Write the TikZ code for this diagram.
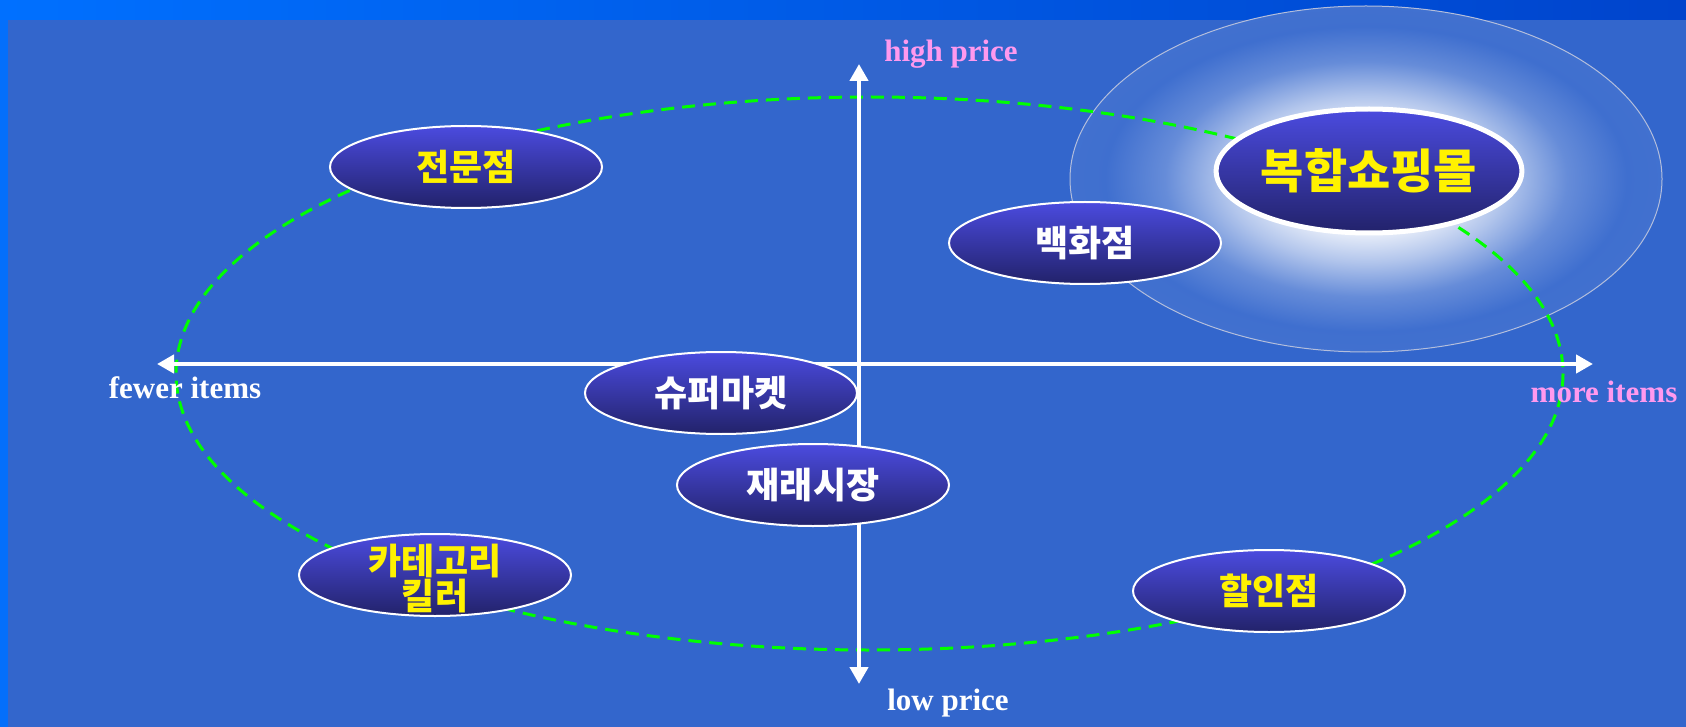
\documentclass[tikz,border=0pt]{standalone}
\usepackage{fontspec}
\setmainfont{Liberation Serif}
\newfontfamily\kor{Noto Sans CJK KR}
\usetikzlibrary{shapes.geometric,arrows.meta}
\definecolor{bgblue}{HTML}{3366CC}
\definecolor{barleft}{HTML}{0070FF}
\definecolor{barright}{HTML}{0044CC}
\definecolor{celltop}{HTML}{4B4BDF}
\definecolor{cellbottom}{HTML}{22226A}
\definecolor{labelpink}{HTML}{FF99EE}
\definecolor{ringgreen}{HTML}{00FF00}
\definecolor{glowrim}{HTML}{B4BEDC}
\pgfdeclareradialshading{glow}{\pgfpoint{0bp}{0bp}}{%
  color(0bp)=(white); color(7bp)=(white!94!bgblue);
  color(12bp)=(white!62!bgblue); color(17bp)=(white!25!bgblue);
  color(22bp)=(bgblue!94!white); color(25bp)=(bgblue!93!white);
  color(50bp)=(bgblue)}
\begin{document}
\begin{tikzpicture}[x=0.5pt,y=-0.5pt,
    store/.style={ellipse,draw=white,line width=1pt,inner sep=0pt,
      minimum width=136pt,minimum height=41pt,
      top color=celltop,bottom color=cellbottom,
      font=\kor\bfseries\fontsize{18}{17.5}\selectfont,align=center},
    axis/.style={white,line width=2.4pt,{Triangle[width=9pt,length=8.5pt]}-{Triangle[width=9pt,length=8.5pt]}},
    axislabel/.style={font=\bfseries\fontsize{15.5}{18}\selectfont,anchor=base,inner sep=0pt}]
  \useasboundingbox (0,0) rectangle (1686,727);
  % Background and title bar
  \fill[bgblue] (0,0) rectangle (1686,727);
  \shade[left color=barleft,right color=barright] (0,0) rectangle (1686,20);
  \fill[barleft!92!bgblue] (0,20) rectangle (8,727);

  % Glow behind the big node
  \path[shading=glow,draw=glowrim,line width=0.5pt] (1366,179) ellipse (296 and 173);

  % The dashed ring
  \draw[ringgreen,line width=1.5pt,dash pattern=on 6.5pt off 4pt] (869.5,373.5) ellipse (693.5 and 276.5);

  % The axes
  \coordinate (lowend) at (859,684);
  \coordinate (highend) at (859,64);
  \coordinate (fewend) at (157,364);
  \coordinate (moreend) at (1593,364);
  \draw[axis] (lowend) -- (highend);
  \draw[axis] (fewend) -- (moreend);
  \node[axislabel,labelpink] (high) at (951,62) {high price};
  \node[axislabel,white] (low) at (948,710) {low price};
  \node[axislabel,white] (few) at (185,398) {fewer items};
  \node[axislabel,labelpink] (more) at (1604,402) {more items};

  % Place the stores
  \node[store,text=yellow] (special) at (466,167) {전문점};
  \node[store,text=white] (dept) at (1085,243) {백화점};
  \node[store,text=yellow,line width=2.5pt,minimum width=147pt,minimum height=62pt,
        font=\kor\bfseries\fontsize{23.5}{26}\selectfont] (mall) at (1369,171) {복합쇼핑몰};
  \node[store,text=white] (super) at (721,393) {슈퍼마켓};
  \node[store,text=white] (market) at (813,485) {재래시장};
  \node[store,text=yellow] (killer) at (435,575)
    {\smash{\raisebox{-8pt}{\begin{tabular}{@{}c@{}}카테고리\\[-3pt]킬러\end{tabular}}}};
  \node[store,text=yellow] (discount) at (1269,591) {할인점};
\end{tikzpicture}
\end{document}
